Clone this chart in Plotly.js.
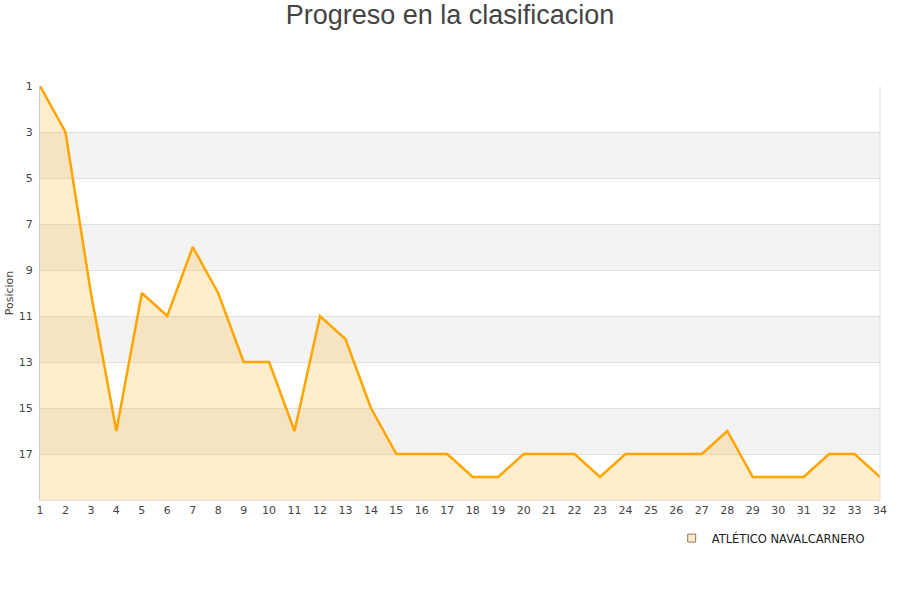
<!DOCTYPE html>
<html>
<head>
<meta charset="utf-8">
<script src="https://cdn.plot.ly/plotly-3.0.1.min.js"></script>
<style>
  html, body { margin: 0; padding: 0; background: #ffffff; }
  #chart { width: 900px; height: 600px; }
</style>
</head>
<body>
<div id="chart"></div>
<script>
(function () {
  'use strict';

  // Jornadas y posicion del equipo
  var rounds = [1, 2, 3, 4, 5, 6, 7, 8, 9, 10, 11, 12, 13, 14, 15, 16, 17,
    18, 19, 20, 21, 22, 23, 24, 25, 26, 27, 28, 29, 30, 31, 32, 33, 34];
  var positions = [1, 3, 10, 16, 10, 11, 8, 10, 13, 13, 16, 11, 12, 15, 17, 17, 17,
    18, 18, 17, 17, 17, 18, 17, 17, 17, 17, 16, 18, 18, 18, 17, 17, 18];
  var teamName = 'ATLÉTICO NAVALCARNERO';
  var yTicks = [1, 3, 5, 7, 9, 11, 13, 15, 17];
  var bottomPos = 19;
  var bands = [[3, 5], [7, 9], [11, 13], [15, 17]];

  var tickFont = { family: '"DejaVu Sans", sans-serif', size: 11, color: '#444444' };

  var baseline = rounds.map(function () { return bottomPos; });

  var traces = [
    {
      x: rounds,
      y: baseline,
      type: 'scatter',
      mode: 'lines',
      line: { width: 0, color: 'rgba(0,0,0,0)' },
      showlegend: false,
      hoverinfo: 'skip'
    },
    {
      x: rounds,
      y: positions,
      name: teamName,
      type: 'scatter',
      mode: 'lines',
      fill: 'tonexty',
      fillcolor: 'rgba(255, 165, 0, 0.2)',
      line: { color: '#ffa500', width: 2.5 },
      showlegend: false,
      hovertemplate: 'Jornada %{x}<br>Posicion: %{y}<extra></extra>'
    },
    // legend-only entry: small square like the original
    {
      x: [null],
      y: [null],
      name: teamName,
      type: 'scatter',
      mode: 'markers',
      marker: {
        symbol: 'square',
        size: 8,
        color: '#fde9c6',
        line: { color: '#8c7c62', width: 1 }
      },
      hoverinfo: 'skip'
    }
  ];

  var shapes = bands.map(function (b) {
    return {
      type: 'rect',
      xref: 'paper',
      yref: 'y',
      x0: 0,
      x1: 1,
      y0: b[0],
      y1: b[1],
      fillcolor: '#f3f3f3',
      line: { width: 0 },
      layer: 'below'
    };
  });
  shapes.push({
    type: 'line', xref: 'paper', yref: 'paper',
    x0: 1, x1: 1, y0: 0, y1: 1,
    line: { color: '#dddddd', width: 1 }
  });

  var layout = {
    width: 900,
    height: 600,
    paper_bgcolor: '#ffffff',
    plot_bgcolor: '#ffffff',
    margin: { t: 86, r: 20, b: 100, l: 40 },
    title: {
      text: 'Progreso en la clasificacion',
      font: { family: '"Liberation Sans", Arial, sans-serif', size: 27, color: '#444444' },
      x: 0.5,
      xanchor: 'center',
      xref: 'container',
      yref: 'container',
      y: 0.975,
      yanchor: 'middle'
    },
    xaxis: {
      range: [1, 34],
      tickvals: rounds,
      ticktext: rounds.map(String),
      tickfont: tickFont,
      showgrid: false,
      zeroline: false,
      showline: true,
      linecolor: '#dddddd',
      linewidth: 1,
      ticks: '',
      ticklen: 0
    },
    yaxis: {
      range: [bottomPos, 1],
      tickvals: yTicks,
      ticktext: yTicks.map(String),
      tickfont: tickFont,
      showgrid: true,
      gridcolor: '#e0e0e0',
      gridwidth: 1,
      zeroline: false,
      showline: true,
      linecolor: '#cccccc',
      linewidth: 1,
      ticks: '',
      ticklabelstandoff: 4,
      title: {
        text: 'Posicion',
        font: { family: '"DejaVu Sans", sans-serif', size: 11, color: '#444444' },
        standoff: 2
      }
    },
    shapes: shapes,
    showlegend: true,
    legend: {
      x: 0.752,
      y: -0.092,
      xanchor: 'left',
      yanchor: 'middle',
      orientation: 'h',
      itemwidth: 30,
      font: { family: '"DejaVu Sans", sans-serif', size: 11.5, color: '#222222' },
      bgcolor: 'rgba(0,0,0,0)'
    }
  };

  Plotly.newPlot('chart', traces, layout, { displayModeBar: false, responsive: false });
})();
</script>
</body>
</html>
